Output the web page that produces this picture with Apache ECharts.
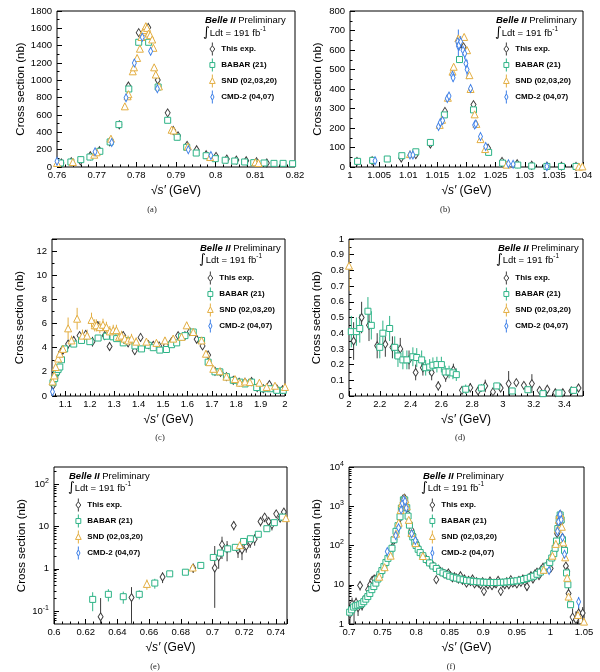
<!DOCTYPE html>
<html>
<head>
<meta charset="utf-8">
<title>Cross section comparison</title>
<script src="https://cdn.jsdelivr.net/npm/echarts@6.0.0/dist/echarts.min.js"></script>
<style>
  html, body { margin: 0; padding: 0; background: #fff; }
  #chart { width: 600px; height: 672px; }
</style>
</head>
<body>
<div id="chart"></div>
<script>
/* ============================================================
   Six panels: e+e- cross section vs sqrt(s'), four experiments
   each row of data = [x, y, err]  (or [x, y, errLow, errHigh])
   ============================================================ */

var FONT = "'Liberation Sans', Arial, Helvetica, sans-serif";

var SERIES_NAMES  = ["This exp.", "BABAR (21)", "SND (02,03,20)", "CMD-2 (04,07)"];
var SERIES_COLORS = ["#3c3c3c", "#2db386", "#e3ae42", "#3d7fe8"];

// tick labels of panel (c), whose axis starts off the 0.1 grid
var C_XTICKS = [1.1, 1.2, 1.3, 1.4, 1.5, 1.6, 1.7, 1.8, 1.9, 2];

// ---- panel (a) : omega region ----
var aThis = [[0.7611,46,8],[0.7636,62,8],[0.7659,70,8],[0.7684,130,10],[0.7707,188,12],[0.7733,290,15],
  [0.7757,487,18],[0.7780,935,25],[0.7806,1550,30],[0.7830,1610,30],[0.7854,1004,25],[0.7879,625,18],
  [0.7893,421,15],[0.7905,360,15],[0.7928,250,12],[0.7952,199,10],[0.7976,142,8],[0.8001,123,8],
  [0.8028,92,6],[0.8052,80,6],[0.8077,72,5],[0.8103,62,5],[0.8129,46,5]];
var aBabar = [[0.7609,46,6],[0.7635,58,6],[0.7660,85,6],[0.7683,115,7],[0.7708,181,8],[0.7734,289,10],
  [0.7756,489,12],[0.7781,900,15],[0.7806,1439,20],[0.7831,1439,20],[0.7855,923,15],[0.7879,539,12],
  [0.7903,343,10],[0.7927,227,8],[0.7951,161,7],[0.7976,130,6],[0.7999,96,6],[0.8024,78,5],
  [0.8048,69,5],[0.8073,58,5],[0.8096,50,5],[0.8122,46,5],[0.8147,42,5],[0.8170,42,5],[0.8194,38,5]];
var aSnd = [[0.7600,46,15],[0.7640,57,15],[0.7694,142,20],[0.7700,170,20],[0.7736,327,25],[0.7771,700,30],
  [0.7778,816,30],[0.7780,840,30],[0.7791,1104,35],[0.7794,1150,35],[0.7802,1258,35],[0.7809,1365,35],
  [0.7813,1500,35],[0.7817,1560,35],[0.7820,1580,35],[0.7824,1625,35],[0.7827,1605,35],[0.7831,1540,35],
  [0.7835,1521,35],[0.7840,1471,35],[0.7843,1375,35],[0.7845,1150,30],[0.7849,1067,30],[0.7857,930,30],
  [0.7889,430,20],[0.7894,421,20],[0.7930,237,15],[0.7986,115,12],[0.8100,54,10],[0.8108,46,10]];
var aCmd2 = [[0.7600,65,25],[0.7696,175,30],[0.7738,283,30],[0.7774,800,40],[0.7795,1200,45],
  [0.7815,1497,40],[0.7836,1335,45],[0.7853,904,40],[0.7931,200,20],[0.7988,134,15]];

// ---- panel (b) : phi region ----
var bThis = [[1.0012,29,3],[1.0038,32,3],[1.0088,46,4],[1.0113,63,5],[1.0138,118,6],[1.0163,285,8],
  [1.0188,627,12],[1.0195,616,12],[1.0212,320,8],[1.0237,97,5],[1.0261,29,3],[1.0287,17,3],
  [1.0312,9,2],[1.0338,5,2],[1.0363,4,2],[1.0388,3,2]];
var bBabar = [[1.0013,29,3],[1.0039,34,3],[1.0064,41,3],[1.0089,58,4],[1.0113,78,4],[1.0138,126,5],
  [1.0162,267,6],[1.0188,551,8],[1.0212,293,6],[1.0238,75,4],[1.0262,20,3],[1.0288,10,2],
  [1.0312,5,2],[1.0338,3,2],[1.0363,3,2],[1.0388,3,2]];
var bSnd = [[1.0103,66,6],[1.0154,216,10],[1.0158,242,10],[1.0168,355,12],[1.0176,489,14],[1.0178,514,14],
  [1.0186,660,15],[1.0188,650,15],[1.0196,667,15],[1.0201,599,14],[1.0205,471,12],[1.0207,400,12],
  [1.0214,270,10],[1.0217,221,10],[1.0224,143,8],[1.0232,92,6],[1.0269,12,3],[1.0393,2,2],[1.0399,3,2]];
var bCmd2 = [[1.0043,32,6],[1.0103,61,6],[1.0108,61,6],[1.0152,208,15],[1.0155,228,15],[1.0159,238,15],
  [1.0167,351,18],[1.0170,364,18],[1.0176,471,20],[1.0177,458,20],[1.0185,642,30],[1.0186,620,85],
  [1.0187,625,30],[1.0190,642,30],[1.0194,599,30],[1.0197,582,30],[1.0199,531,25],[1.0201,500,50],
  [1.0207,403,20],[1.0214,216,15],[1.0216,221,15],[1.0224,157,12],[1.0233,105,10],[1.0272,17,5],
  [1.0280,14,5],[1.0338,3,3]];

// ---- panel (c) : 1.05 - 2 GeV ----
var cThis = [[1.050,0.9,0.25],[1.059,1.5,0.25],[1.070,2.0,0.3],[1.082,3.65,0.3],[1.090,3.8,0.3],
  [1.111,4.3,0.35],[1.134,4.6,0.35],[1.158,5.0,0.35],[1.183,5.1,0.35],[1.211,4.5,0.4],[1.233,5.8,0.4],
  [1.261,5.0,0.35],[1.281,4.1,0.35],[1.309,5.0,0.35],[1.337,5.0,0.35],[1.357,4.4,0.35],[1.384,3.75,0.35],
  [1.408,4.85,0.35],[1.440,4.25,0.3],[1.460,4.2,0.3],[1.484,4.15,0.3],[1.512,4.2,0.3],[1.535,4.5,0.3],
  [1.562,5.0,0.3],[1.590,5.0,0.3],[1.610,5.33,0.3],[1.638,4.7,0.3],[1.662,4.15,0.25],[1.685,3.4,0.25],
  [1.713,2.05,0.2],[1.736,1.95,0.2],[1.760,1.6,0.15],[1.788,1.3,0.15],[1.812,1.15,0.15],[1.836,1.15,0.15],
  [1.863,1.2,0.15],[1.886,0.7,0.12],[1.911,0.6,0.12],[1.936,0.95,0.12],[1.966,0.6,0.1],[1.990,0.52,0.1]];
var cBabar = [[1.049,1.1,0.12],[1.056,1.44,0.12],[1.063,2.0,0.12],[1.070,2.2,0.12],[1.077,2.4,0.12],
  [1.084,3.0,0.12],[1.097,3.9,0.12],[1.134,4.3,0.12],[1.166,4.6,0.12],[1.200,4.5,0.12],[1.234,4.8,0.12],
  [1.268,4.95,0.12],[1.295,4.9,0.12],[1.310,4.75,0.12],[1.337,4.4,0.12],[1.350,4.6,0.12],[1.385,4.15,0.12],
  [1.412,3.9,0.12],[1.440,4.2,0.12],[1.460,4.0,0.12],[1.487,3.8,0.12],[1.514,3.85,0.12],[1.535,4.25,0.12],
  [1.556,4.4,0.12],[1.576,4.9,0.12],[1.590,5.0,0.12],[1.624,5.3,0.12],[1.658,4.6,0.12],[1.685,2.8,0.12],
  [1.713,2.0,0.1],[1.733,2.0,0.1],[1.760,1.6,0.1],[1.788,1.3,0.1],[1.815,1.15,0.1],[1.836,1.0,0.1],
  [1.863,1.15,0.1],[1.884,0.7,0.08],[1.911,0.6,0.08],[1.939,0.6,0.08],[1.966,0.47,0.08],[1.993,0.47,0.08]];
var cSnd = [[1.047,1.2,0.2],[1.054,1.7,0.25],[1.060,2.4,0.3],[1.070,3.1,0.3],[1.077,3.5,0.3],[1.090,3.9,0.3],
  [1.111,5.6,0.9],[1.125,4.6,0.4],[1.148,6.4,0.9],[1.170,5.0,0.5],[1.189,5.0,0.5],[1.207,6.3,0.6],
  [1.220,5.85,0.5],[1.227,5.85,0.5],[1.241,5.7,0.5],[1.254,5.9,0.5],[1.268,5.7,0.45],[1.282,5.35,0.45],
  [1.296,5.45,0.45],[1.309,5.45,0.45],[1.320,4.9,0.4],[1.330,5.0,0.4],[1.343,4.75,0.4],[1.357,4.6,0.4],
  [1.371,4.75,0.4],[1.390,4.5,0.35],[1.432,4.5,0.3],[1.473,4.4,0.3],[1.508,4.6,0.3],[1.542,4.75,0.3],
  [1.576,4.9,0.3],[1.597,5.85,0.3],[1.624,5.3,0.3],[1.658,4.6,0.3],[1.676,3.5,0.25],[1.690,2.8,0.2],
  [1.706,2.25,0.2],[1.733,2.05,0.2],[1.760,1.6,0.15],[1.795,1.4,0.15],[1.815,1.1,0.12],[1.836,1.2,0.12],
  [1.856,1.15,0.12],[1.895,1.1,0.12],[1.925,0.75,0.1],[1.959,0.85,0.1],[2.000,0.75,0.1]];
var cCmd2 = [[1.047,0.35,0.3]];

// ---- panel (d) : 2 - 3.5 GeV ----
var dThis = [[2.030,0.35,0.12],[2.082,0.50,0.1],[2.130,0.45,0.1],[2.183,0.32,0.08],[2.236,0.33,0.08],
  [2.282,0.31,0.07],[2.333,0.30,0.07],[2.390,0.23,0.06],[2.433,0.15,0.05],[2.480,0.18,0.05],[2.537,0.15,0.05],
  [2.580,0.064,0.03],[2.628,0.13,0.04],[2.678,0.166,0.04],[2.734,0.036,0.02],[2.788,0.053,0.03],
  [2.838,0.032,0.02],[2.885,0.064,0.04],[2.935,0.026,0.02],[2.985,0.051,0.02],[3.037,0.079,0.08],
  [3.087,0.085,0.02],[3.136,0.068,0.02],[3.188,0.079,0.06],[3.238,0.036,0.015],[3.288,0.043,0.015],
  [3.340,0.021,0.01],[3.389,0.021,0.01],[3.444,0.032,0.01],[3.491,0.051,0.012]];
var dBabar = [[2.015,0.41,0.1],[2.048,0.41,0.09],[2.070,0.43,0.09],[2.123,0.54,0.09],[2.145,0.45,0.09],
  [2.200,0.31,0.07],[2.220,0.40,0.08],[2.264,0.43,0.08],[2.297,0.31,0.07],[2.318,0.255,0.07],
  [2.350,0.23,0.06],[2.376,0.23,0.06],[2.415,0.25,0.06],[2.440,0.245,0.06],[2.472,0.23,0.06],
  [2.498,0.18,0.05],[2.524,0.185,0.05],[2.545,0.196,0.05],[2.571,0.20,0.05],[2.600,0.20,0.05],
  [2.625,0.153,0.04],[2.650,0.153,0.04],[2.675,0.147,0.04],[2.697,0.136,0.04],[2.758,0.043,0.03],
  [2.860,0.051,0.025],[2.960,0.064,0.02],[3.060,0.032,0.02],[3.162,0.04,0.02],[3.260,0.015,0.01],
  [3.364,0.019,0.01],[3.459,0.036,0.012]];
var dSnd = [[2.000,0.83,0.16]];
var dCmd2 = [];

// ---- panel (e) : 0.6 - 0.75 GeV (log) ----
var eThis = [[0.6294,0.074,0.13],[0.6489,0.21,0.16],[0.6685,0.64,0.18],[0.6878,1.05,0.25],
  [0.7014,1.04,0.92,2.4],[0.7039,1.9,0.9],[0.7060,3.7,2.0],[0.7092,3.0,1.5],[0.7134,10.5,2.5],
  [0.7161,2.8,1.0],[0.7186,2.8,1.2],[0.7213,3.4,1.0],[0.7238,4.3,1.2],[0.7266,5.0,1.5],[0.7303,13,3],
  [0.7329,16.5,4],[0.7354,13,3],[0.7375,11,3],[0.7402,19.7,3],[0.7427,15.6,3],[0.7450,21.7,4]];
var eBabar = [[0.6244,0.19,0.09],[0.6343,0.25,0.08],[0.6437,0.22,0.07],[0.6538,0.25,0.06],
  [0.6636,0.46,0.12],[0.6730,0.76,0.12],[0.6829,0.83,0.1],[0.6926,1.2,0.1],[0.7005,1.85,0.15],
  [0.7050,2.35,0.2],[0.7096,2.95,0.2],[0.7144,3.2,0.25],[0.7196,4.4,0.3],[0.7239,5.1,0.3],
  [0.7289,6.5,0.4],[0.7343,8.8,0.5],[0.7390,12.2,0.6],[0.7442,16.5,0.8]];
var eSnd = [[0.6586,0.44,0.12],[0.6875,1.07,0.15],[0.7172,3.6,0.4],[0.7463,15.6,1]];
var eCmd2 = [];

// ---- panel (f) : 0.7 - 1.05 GeV (log) ----
var fThis = [[0.7015,1.8,1.2],[0.7045,3.2,1.5],[0.7075,2.5,1.5],[0.7105,3.5,1.2],[0.7135,2.6,1.0],
  [0.7165,9.6,2.5],[0.7195,3.0,0.8],[0.7225,4.2,1.0],[0.7255,4.5,1.0],[0.7285,7.5,1.5],[0.7315,10,2],
  [0.7345,13,2.5],[0.7375,14,2.5],[0.7405,11,2],[0.7435,17,3],[0.7465,20,3],[0.7495,22,3],[0.7525,30,4],
  [0.7555,38,5],[0.7585,48,6],[0.7615,65,7],[0.7645,90,9],[0.7675,140,12],[0.7705,210,15],[0.7735,300,20],
  [0.7760,500,25],[0.7780,920,35],[0.7806,1550,40],[0.7829,1600,40],[0.7854,1000,35],[0.7879,620,25],
  [0.7905,360,18],[0.7930,250,14],[0.7955,190,12],[0.7976,140,10],[0.8001,120,9],[0.8030,90,8],
  [0.806,70,7],[0.809,60,6],[0.812,50,5],[0.815,44,5],[0.818,40,5],[0.821,34,4],[0.824,33,4],[0.827,28,4],
  [0.830,13.5,2.5],[0.833,25,3],[0.836,22,3],[0.839,21,3],[0.842,19,3],[0.845,18,3],[0.848,20,3],
  [0.851,17,3],[0.854,15,2.5],[0.857,16,2.5],[0.860,15,2.5],[0.863,14,2.5],[0.866,17,3],[0.869,13,2.5],
  [0.872,14,2.5],[0.875,11,2],[0.878,13,2.5],[0.881,12,2.5],[0.884,14,2.5],[0.887,10.5,2],[0.890,12,2.5],
  [0.893,11,2],[0.896,10,2],[0.899,12,2.5],[0.901,6.8,1.5],[0.904,11,2],[0.907,10,2],[0.910,12.5,2.5],
  [0.913,9.5,2],[0.916,11,2],[0.919,10.5,2],[0.922,13,2.5],[0.926,6.8,1.5],[0.929,11,2],[0.932,10,2],
  [0.935,12,2.5],[0.938,10,2],[0.941,13.5,2.5],[0.944,11,2],[0.947,12,2.5],[0.950,10.5,2],[0.953,13,2.5],
  [0.956,11.5,2],[0.959,14,2.5],[0.962,12,2.5],[0.965,9,2],[0.968,15,3],[0.971,17,3],[0.974,14,2.5],
  [0.977,19,3],[0.980,21,3],[0.983,17,3],[0.986,24,3.5],[0.989,28,4],[0.992,26,4],[0.995,32,4],
  [0.998,38,5],[1.0003,26,4],[1.003,52,6],[1.006,70,7],[1.008,110,10],[1.010,200,15],[1.012,380,20],
  [1.0135,560,25],[1.015,620,30],[1.0165,400,20],[1.018,160,12],[1.020,90,8],[1.023,30,5],[1.025,22,5],
  [1.027,6,3],[1.033,1.5,1],[1.038,1.3,0.8],[1.042,1.9,0.9],[1.048,1.9,0.8]];
var fBabar = [[0.701,2.0,0.3],[0.704,2.3,0.3],[0.707,2.7,0.3],[0.710,2.9,0.3],[0.713,3.0,0.3],[0.716,3.1,0.3],
  [0.719,3.3,0.3],[0.722,3.7,0.3],[0.725,4.3,0.3],[0.728,5.0,0.3],[0.731,6.0,0.4],[0.734,7.5,0.4],
  [0.737,9.0,0.5],[0.740,11,0.5],[0.743,14,0.6],[0.746,18,0.8],[0.749,23,1],[0.752,29,1],[0.755,37,1],
  [0.758,47,2],[0.761,60,2],[0.764,85,3],[0.767,140,4],[0.770,230,6],[0.773,320,8],[0.776,540,12],
  [0.778,900,15],[0.781,1450,20],[0.783,1450,20],[0.786,920,15],[0.788,560,12],[0.790,330,8],
  [0.793,200,6],[0.795,165,5],[0.798,120,4],[0.800,100,3],[0.803,80,3],[0.806,66,2],[0.810,55,2],
  [0.815,44,2],[0.820,36,1],[0.825,30,1],[0.830,26,1],[0.835,22,1],[0.840,20,1],[0.845,18,1],
  [0.850,16.5,0.8],[0.855,15.5,0.8],[0.860,14.8,0.8],[0.865,14,0.8],[0.870,13.4,0.8],[0.875,12.9,0.8],
  [0.880,12.6,0.8],[0.885,12.2,0.8],[0.890,12,0.8],[0.895,11.8,0.8],[0.900,11.6,0.8],[0.905,11.5,0.8],
  [0.910,11.4,0.8],[0.915,11.4,0.8],[0.920,11.4,0.8],[0.925,11.5,0.8],[0.930,11.6,0.8],[0.935,11.8,0.8],
  [0.940,12,0.8],[0.945,12.3,0.8],[0.950,12.6,0.8],[0.955,13,0.8],[0.960,13.6,0.8],[0.965,14.5,0.8],
  [0.970,15.5,0.8],[0.975,16.5,0.8],[0.980,18.5,1],[0.985,21,1],[0.990,24,1],[0.995,30,1],[0.999,37,1.5],
  [1.002,48,2],[1.005,62,3],[1.007,85,3],[1.009,130,5],[1.011,270,8],[1.013,480,12],[1.0145,600,15],
  [1.016,450,12],[1.018,140,5],[1.021,75,3],[1.024,20,1],[1.026,10,0.5],[1.030,3.1,0.3]];
var fSnd = [[0.745,16,2],[0.753,28,3],[0.762,55,5],[0.770,200,10],[0.774,380,15],[0.777,800,25],
  [0.779,1200,35],[0.781,1500,40],[0.782,1620,40],[0.784,1480,40],[0.786,1000,30],[0.789,450,20],
  [0.793,210,10],[0.799,115,6],[0.810,54,4],[0.990,24,2],[1.003,55,4],[1.008,110,6],[1.011,260,10],
  [1.0125,450,15],[1.0135,600,20],[1.0145,650,20],[1.0155,550,20],[1.017,300,12],[1.019,120,8],
  [1.022,50,5],[1.025,15,3],[1.027,5,2],[1.041,1.7,0.5],[1.050,1.15,0.3]];
var fCmd2 = [[0.757,70,8],[0.7696,180,12],[0.7738,283,15],[0.7776,805,30],[0.7795,1195,40],
  [0.7816,1494,45],[0.7835,1341,45],[0.7853,908,35],[0.7933,199,12],[0.7988,134,10],[0.998,23,3],
  [1.0105,230,15],[1.012,400,20],[1.0135,600,30],[1.0145,630,40],[1.016,450,25],[1.018,160,12],
  [1.021,60,6],[1.042,3.7,1.2]];

// ============================================================
//  layout of the six panels (pixels)
//  x: [min, max, interval, minor splits, custom ticks?]
// ============================================================
var PANELS = [
  { grid: [57, 11, 238, 156],  x: [0.76, 0.82, 0.01, 5],   y: ["value", 0, 1800, 200, 2],
    data: [aThis, aBabar, aSnd, aCmd2], legend: [209, 42], belle: [205, 20], lumi: [203, 33], caption: [152, 210, "(a)"] },
  { grid: [350, 11, 233, 156], x: [1, 1.04, 0.005, 5],     y: ["value", 0, 800, 100, 2],
    data: [bThis, bBabar, bSnd, bCmd2], legend: [503, 42], belle: [496, 20], lumi: [495, 33], caption: [445, 210, "(b)"] },
  { grid: [52, 239, 233, 157], x: [1.045, 2, 0.1, 5, C_XTICKS], y: ["value", 0, 13, 2, 2],
    data: [cThis, cBabar, cSnd, cCmd2], legend: [207, 271], belle: [200, 248], lumi: [199, 260], caption: [160, 438, "(c)"] },
  { grid: [349, 239, 234, 157], x: [2, 3.52, 0.2, 5],      y: ["value", 0, 1, 0.1, 2],
    data: [dThis, dBabar, dSnd, dCmd2], legend: [503, 271], belle: [498, 248], lumi: [496, 260], caption: [460, 438, "(d)"] },
  { grid: [54, 467, 233, 157], x: [0.6, 0.747, 0.02, 4],   y: ["log", 0.05, 250],
    data: [eThis, eBabar, eSnd, eCmd2], legend: [75, 498], belle: [69, 476], lumi: [68, 488], caption: [155, 667, "(e)"] },
  { grid: [349, 467, 235, 157], x: [0.7, 1.05, 0.05, 5],   y: ["log", 1, 10000],
    data: [fThis, fBabar, fSnd, fCmd2], legend: [429, 498], belle: [423, 476], lumi: [421, 488], caption: [451, 667, "(f)"] }
];

var SYMBOLS      = ["diamond", "rect", "triangle", "diamond"];
var SYMBOL_SIZES = [[5, 8], [6, 6], [7, 7], [4, 8]];
var LEGEND_ICONS = [
  "path://M4,0V4M4,12V16M4,4L7,8L4,12L1,8Z",
  "path://M4,0V5M4,11V16M1,5H7V11H1Z",
  "path://M4,0V4M4,11V16M4,4L7.5,11H0.5Z",
  "path://M4,0V4M4,12V16M4,4L6,8L4,12L2,8Z"
];

function errorBar(yFloor) {
  return function (params, api) {
    var x = api.value(0), y = api.value(1);
    var lo = api.value(2), hi = api.value(3);
    if (isNaN(hi)) hi = lo;
    var p1 = api.coord([x, Math.max(y - lo, yFloor)]);
    var p2 = api.coord([x, y + hi]);
    return {
      type: "line",
      shape: { x1: p1[0], y1: p1[1], x2: p2[0], y2: p2[1] },
      style: { stroke: api.visual("color"), lineWidth: 1 }
    };
  };
}

function plainLabel(v) { return String(parseFloat(Number(v).toFixed(6))); }

function logLabel(v) {
  var n = Math.round(Math.log10(v));
  if (n === 0) return "1";
  if (n === 1) return "10";
  return "10{s|" + n + "}";
}

function isDecade(v) { var l = Math.log10(v); return Math.abs(l - Math.round(l)) < 1e-9; }

// 2..9 x 10^n positions inside [lo, hi]
function logMinorTicks(lo, hi) {
  var out = [];
  for (var e = Math.floor(Math.log10(lo)); e <= Math.ceil(Math.log10(hi)); e++) {
    for (var m = 2; m <= 9; m++) {
      var v = m * Math.pow(10, e);
      if (v > lo && v < hi) out.push(v);
    }
  }
  return out;
}

function linearTicks(lo, hi, step) {
  var out = [];
  for (var v = Math.ceil(lo / step - 1e-9) * step; v <= hi + 1e-9; v += step) out.push(parseFloat(v.toFixed(6)));
  return out;
}

var lineBlack = { color: "#000", width: 1 };

var grids = [], xAxes = [], yAxes = [], extraX = [], extraY = [], legends = [], graphics = [], series = [];

PANELS.forEach(function (p, i) {
  grids.push({ left: p.grid[0], top: p.grid[1], width: p.grid[2], height: p.grid[3],
    show: true, borderColor: "#000", borderWidth: 1, containLabel: false });

  var xr = p.x[1] / p.x[2];
  var x = {
    type: "value", gridIndex: i, min: p.x[0], max: p.x[1], position: "bottom",
    axisLine: { show: false },
    axisTick: { inside: true, length: 5, lineStyle: lineBlack },
    splitLine: { show: false },
    axisLabel: { fontFamily: FONT, fontSize: 9.5, color: "#000", margin: 3, formatter: plainLabel,
      showMaxLabel: Math.abs(xr - Math.round(xr)) < 1e-6 },
    name: "\u221a{i|s\u2032} (GeV)", nameLocation: "middle", nameGap: 18,
    nameTextStyle: { fontFamily: FONT, fontSize: 12, color: "#000",
      rich: { i: { fontFamily: FONT, fontSize: 12, fontStyle: "italic", color: "#000" } } }
  };
  if (p.x[4]) {
    // axis does not start on the tick grid: place the labelled ticks explicitly
    x.axisTick.customValues = p.x[4];
    x.axisLabel.customValues = p.x[4];
    extraX.push({
      type: "value", gridIndex: i, min: p.x[0], max: p.x[1], position: "bottom",
      axisLine: { show: false }, splitLine: { show: false }, axisLabel: { show: false },
      axisTick: { inside: true, length: 2.5, lineStyle: lineBlack,
        customValues: linearTicks(p.x[0], p.x[1], p.x[2] / p.x[3]) }
    });
  } else {
    x.interval = p.x[2];
    x.minorTick = { show: true, splitNumber: p.x[3], length: 2.5, lineStyle: lineBlack };
  }
  xAxes.push(x);

  var y = {
    gridIndex: i, type: p.y[0], min: p.y[1], max: p.y[2], position: "left",
    axisLine: { show: false },
    axisTick: { inside: true, length: 5, lineStyle: lineBlack },
    splitLine: { show: false },
    axisLabel: { fontFamily: FONT, fontSize: 9.5, color: "#000", margin: 5 },
    name: "Cross section (nb)", nameLocation: "middle", nameGap: 26,
    nameTextStyle: { fontFamily: FONT, fontSize: 11.5, color: "#000" }
  };
  if (p.y[0] === "log") {
    y.logBase = 10;
    y.axisLabel.formatter = logLabel;
    y.axisLabel.showMinLabel = isDecade(p.y[1]);
    y.axisLabel.showMaxLabel = isDecade(p.y[2]);
    y.axisLabel.rich = { s: { fontFamily: FONT, fontSize: 7, color: "#000", padding: [0, 0, 6, 0] } };
    extraY.push({
      type: "log", logBase: 10, gridIndex: i, min: p.y[1], max: p.y[2], position: "left",
      axisLine: { show: false }, splitLine: { show: false }, axisLabel: { show: false },
      axisTick: { inside: true, length: 2.5, lineStyle: lineBlack, customValues: logMinorTicks(p.y[1], p.y[2]) }
    });
  } else {
    y.interval = p.y[3];
    y.minorTick = { show: true, splitNumber: p.y[4], length: 2.5, lineStyle: lineBlack };
    y.axisLabel.formatter = plainLabel;
    var yr = p.y[2] / p.y[3];
    y.axisLabel.showMaxLabel = Math.abs(yr - Math.round(yr)) < 1e-6;
  }
  yAxes.push(y);

  legends.push({
    orient: "vertical", left: p.legend[0], top: p.legend[1],
    itemWidth: 8, itemHeight: 13, itemGap: 2, itemTextGap: 7,
    selectedMode: false, padding: 0,
    textStyle: { fontFamily: FONT, fontSize: 8, fontWeight: "bold", color: "#000" },
    data: SERIES_NAMES.map(function (n, k) {
      return { name: n, icon: LEGEND_ICONS[k],
        itemStyle: { color: "#fff", borderColor: SERIES_COLORS[k], borderWidth: 1 } };
    })
  });

  graphics.push({
    type: "text", x: p.belle[0], y: p.belle[1], silent: true,
    style: { text: "{b|Belle II}{n| Preliminary}", verticalAlign: "middle",
      rich: { b: { fontFamily: FONT, fontSize: 9.5, fontWeight: "bold", fontStyle: "italic", fill: "#000" },
              n: { fontFamily: FONT, fontSize: 9.5, fill: "#000" } } }
  });
  graphics.push({
    type: "text", x: p.lumi[0], y: p.lumi[1], silent: true,
    style: { text: "{i|\u222b}{n|Ldt = 191 fb}{s|-1}", verticalAlign: "middle",
      rich: { i: { fontFamily: "'DejaVu Sans', sans-serif", fontSize: 13, fill: "#000" },
              n: { fontFamily: FONT, fontSize: 9.5, fill: "#000" },
              s: { fontFamily: FONT, fontSize: 6.5, fill: "#000", padding: [0, 0, 7, 0] } } }
  });
  graphics.push({
    type: "text", x: p.caption[0], y: p.caption[1], silent: true,
    style: { text: p.caption[2], align: "center", verticalAlign: "middle",
      fontFamily: "'Liberation Serif', 'DejaVu Serif', serif", fontSize: 8.5, fill: "#222" }
  });

  p.data.forEach(function (rows, k) {
    if (!rows.length) return;
    series.push({
      type: "custom", name: SERIES_NAMES[k], xAxisIndex: i, yAxisIndex: i,
      dimensions: ["x", "y", "lo", "hi"], encode: { x: 0, y: 1 },
      data: rows, clip: true, silent: true, z: 2,
      itemStyle: { color: SERIES_COLORS[k] },
      renderItem: errorBar(p.y[1])
    });
    series.push({
      type: "scatter", name: SERIES_NAMES[k], xAxisIndex: i, yAxisIndex: i,
      data: rows.map(function (r) { return [r[0], r[1]]; }),
      symbol: SYMBOLS[k], symbolSize: SYMBOL_SIZES[k], silent: true, z: 3,
      itemStyle: { color: "#fff", borderColor: SERIES_COLORS[k], borderWidth: 1, opacity: 1 }
    });
  });
});

var chart = echarts.init(document.getElementById("chart"), null, { renderer: "canvas" });
chart.setOption({
  animation: false,
  backgroundColor: "#fff",
  grid: grids,
  xAxis: xAxes.concat(extraX),
  yAxis: yAxes.concat(extraY),
  legend: legends,
  graphic: graphics,
  series: series
});
</script>
</body>
</html>
